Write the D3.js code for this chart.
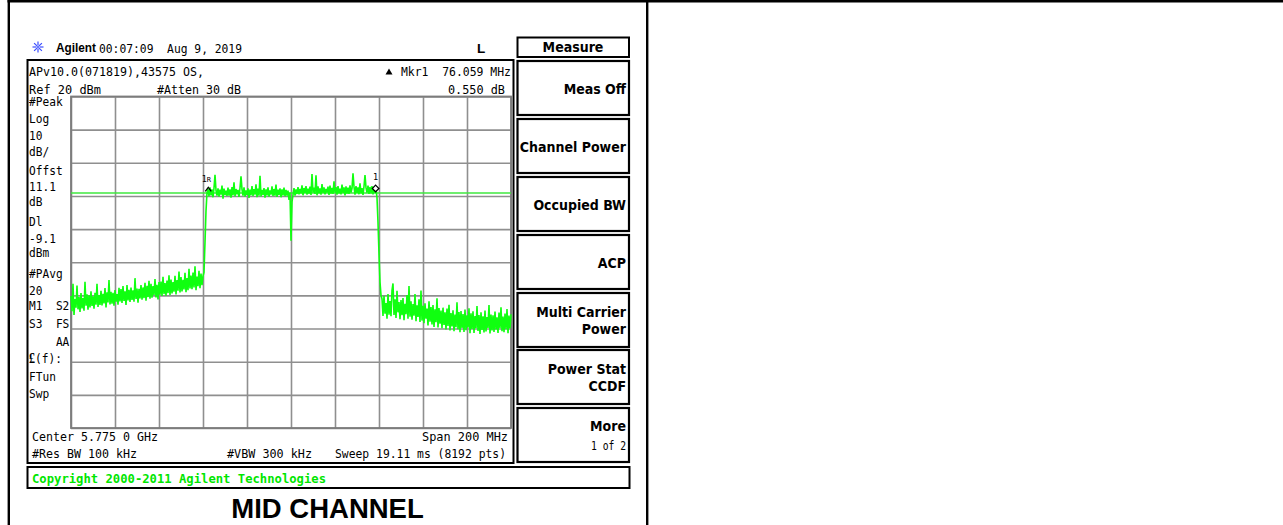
<!DOCTYPE html>
<html><head><meta charset="utf-8">
<script src="https://cdn.jsdelivr.net/npm/d3@7"></script>
<style>
html,body{margin:0;padding:0;background:#fff;}
svg{display:block;}
</style></head><body>
<svg id="c" width="1283" height="525"></svg>
<script>
// ---------- instrument settings ----------
const refLevelDbm = 20;
const dbPerDiv = 10;
const centerMHz = 5775;
const spanMHz = 200;
const displayLineDbm = -9.1;
const gridDivs = 10;

const traceLowerAdjacent = [
 -40.2,-44.8,-36.5,-45.9,-41.1,-43.7,-37.0,-44.2,-40.5,-45.0,
 -39.3,-43.9,-40.8,-44.6,-35.9,-43.1,-39.7,-44.3,-40.0,-43.6,
 -38.8,-43.2,-40.3,-44.0,-39.2,-42.8,-36.5,-43.5,-39.9,-42.9,
 -38.6,-43.0,-39.5,-42.4,-37.8,-43.6,-39.1,-42.1,-35.4,-42.7,
 -38.9,-42.5,-39.2,-43.1,-38.4,-41.9,-39.6,-42.8,-37.7,-41.8,
 -38.1,-42.3,-37.2,-41.7,-38.8,-42.9,-36.9,-41.5,-38.3,-42.0,
 -37.6,-41.4,-38.5,-41.9,-34.8,-41.1,-37.9,-42.2,-38.0,-40.9,
 -36.9,-41.3,-37.6,-40.8,-36.2,-41.6,-37.1,-40.5,-35.6,-41.0,
 -36.5,-40.7,-37.2,-39.9,-35.1,-40.6,-36.8,-41.2,-36.0,-39.8,
 -35.8,-40.2,-34.4,-39.6,-36.3,-40.1,-35.5,-39.3,-33.9,-39.9,
 -35.2,-39.4,-36.0,-38.9,-34.1,-39.7,-35.4,-38.6,-32.8,-39.1,
 -34.5,-38.8,-35.3,-38.2,-33.2,-39.0,-34.8,-38.4,-32.0,-37.9,
 -34.0,-38.1,-33.1,-37.6,-31.2,-38.4,-34.3,-37.2,-32.6,-37.8,-33.4,-36.9,-34.2
];
const traceRisingEdge = [-33.0,-24.0,-14.5,-9.0];
const traceInBand = [
 -7.9,-10.1,-7.4,-9.8,-8.0,-10.4,-7.6,-3.6,-8.3,-9.9,
 -7.7,-10.2,-8.1,-9.6,-6.9,-10.8,-7.8,-9.7,-8.4,-10.0,
 -7.5,-9.9,-8.0,-10.5,-7.3,-9.8,-5.9,-10.1,-7.9,-9.5,
 -8.2,-10.3,-7.6,-4.1,-8.0,-9.9,-7.4,-10.2,-8.3,-9.7,
 -7.7,-10.6,-8.1,-9.8,-7.0,-10.0,-7.9,-9.6,-6.5,-10.4,
 -7.8,-9.9,-3.9,-10.1,-8.2,-9.7,-7.6,-10.5,-8.0,-9.8,
 -7.4,-10.2,-8.3,-9.6,-7.1,-10.0,-7.9,-9.9,-6.6,-10.3,
 -8.1,-9.7,-7.7,-10.4,-8.0,-9.8,-7.5,-10.1,-8.2,-9.9,
 -8.4,-11.2,-9.0,-23.5,-11.8,-9.7,-7.6,-9.9,-8.0,-9.4,
 -7.3,-9.5,-7.9,-9.2,-6.8,-9.8,-7.6,-9.1,-7.0,-9.6,
 -7.8,-9.3,-7.2,-9.7,-3.4,-9.0,-7.5,-9.4,-3.8,-9.8,
 -7.1,-9.2,-7.7,-9.6,-6.4,-9.1,-7.4,-9.5,-7.9,-9.0,
 -7.2,-9.7,-6.9,-9.3,-7.6,-9.4,-5.6,-9.0,-7.3,-9.6,
 -7.0,-9.2,-7.8,-9.5,-6.6,-9.1,-7.4,-9.8,-7.1,-9.3,
 -7.5,-9.4,-6.8,-9.0,-7.7,-3.2,-7.2,-9.6,-7.0,-9.1,
 -7.4,-9.5,-6.2,-9.2,-7.6,-9.7,-7.1,-3.7,-7.5,-9.0,
 -6.9,-9.4,-7.3,-9.2,-7.0,-9.5,-7.6,-9.1,-7.8
];
const traceFallingEdge = [-10.5,-18.0,-27.5,-36.0,-40.0];
const traceUpperAdjacent = [
 -41.0,-46.2,-40.1,-45.5,-42.3,-47.0,-39.6,-45.8,-41.7,-46.3,
 -38.5,-36.4,-45.9,-41.2,-46.8,-38.6,-45.1,-42.0,-47.2,-41.4,
 -46.0,-40.8,-47.5,-42.5,-45.7,-39.9,-47.0,-37.2,-46.4,-41.8,
 -47.3,-42.6,-46.1,-39.6,-47.8,-43.0,-46.5,-41.2,-48.0,-38.5,
 -47.6,-43.1,-48.4,-42.4,-47.0,-44.0,-49.1,-41.8,-47.9,-43.5,
 -48.8,-42.9,-49.5,-44.2,-48.1,-40.9,-49.7,-43.8,-48.5,-44.6,
 -49.9,-43.7,-48.9,-45.1,-50.3,-44.0,-49.2,-42.8,-50.6,-45.3,
 -49.4,-44.5,-50.8,-45.8,-49.6,-42.1,-50.2,-45.0,-51.1,-44.7,
 -49.8,-45.6,-51.0,-44.3,-50.5,-46.0,-49.7,-43.9,-51.4,-45.4,
 -50.1,-44.8,-51.3,-46.2,-49.9,-43.2,-50.7,-45.9,-51.6,-45.1,
 -50.4,-46.3,-51.2,-44.6,-50.9,-46.5,-49.8,-42.9,-51.5,-45.8,
 -50.6,-46.0,-51.0,-44.9,-50.3,-46.6,-51.3,-45.2,-49.9,-43.6,
 -50.8,-46.4,-51.1,-45.5,-50.2,-44.1,-51.4,-46.1,-50.0,-45.7
];

// ---------- markers ----------
const markerRefMHz = 5737.4, markerRefDbm = -8.3;
const marker1MHz = 5813.46, marker1Dbm = -7.75;

// ---------- texts ----------
const headerTime = "00:07:09  Aug 9, 2019";
const statusLine1 = "APv10.0(071819),43575 OS,";
const markerReadout = "Mkr1  76.059 MHz";
const markerDelta = "0.550 dB";
const refText = "Ref 20 dBm";
const attenText = "#Atten 30 dB";
const sideLabels = ["#Peak","Log","10","dB/","Offst","11.1","dB","Dl","-9.1","dBm","#PAvg","20","M1  S2","S3  FS","    AA","(f):","FTun","Swp"];
const sideLabelY = [101.7,118.3,135,151.7,170,186,201,221,238,252,273,290,305,323,341,358,376,393];
const bottomLeft1 = "Center 5.775 0 GHz", bottomRight1 = "Span 200 MHz";
const bottomLeft2 = "#Res BW 100 kHz", bottomMid2 = "#VBW 300 kHz", bottomRight2 = "Sweep 19.11 ms (8192 pts)";
const copyrightText = "Copyright 2000-2011 Agilent Technologies";
const captionText = "MID CHANNEL";
const menuTitle = "Measure";
const softkeys = [["Meas Off"],["Channel Power"],["Occupied BW"],["ACP"],["Multi Carrier","Power"],["Power Stat","CCDF"],["More"]];
const moreSub = "1 of 2";

// ---------- drawing ----------
const svg = d3.select("#c");
const mono = "'DejaVu Sans Mono', 'Liberation Mono', monospace";
const keyFont = "'DejaVu Sans Condensed', 'DejaVu Sans', sans-serif";
const MONO_SIZE = 13;

function text(parent, x, y, s, o = {}) {
  const t = parent.append("text").attr("x", x).attr("y", y).text(s)
    .attr("font-family", o.family || mono)
    .attr("font-size", o.size || MONO_SIZE)
    .attr("font-weight", o.weight || "normal")
    .attr("fill", o.fill || "#000")
    .attr("text-anchor", o.anchor || "start")
    .style("white-space", "pre");
  if (o.stretch) t.attr("font-stretch", o.stretch);
  if (o.len) t.attr("textLength", o.len).attr("lengthAdjust", "spacingAndGlyphs");
  return t;
}

// outer page table lines
svg.append("line").attr("x1", 7.5).attr("x2", 1283).attr("y1", 1.3).attr("y2", 1.3).attr("stroke", "#000").attr("stroke-width", 2.6);
svg.append("line").attr("x1", 8.8).attr("x2", 8.8).attr("y1", 0).attr("y2", 525).attr("stroke", "#000").attr("stroke-width", 2.4);
svg.append("line").attr("x1", 647.2).attr("x2", 647.2).attr("y1", 0).attr("y2", 525).attr("stroke", "#000").attr("stroke-width", 2.4);

// header
const icon = svg.append("g").attr("transform", "translate(38,47)");
for (let a = 0; a < 8; a++) {
  const ang = a * Math.PI / 4;
  icon.append("line").attr("x1", 1.5 * Math.cos(ang)).attr("y1", 1.5 * Math.sin(ang))
    .attr("x2", 5.5 * Math.cos(ang)).attr("y2", 5.5 * Math.sin(ang))
    .attr("stroke", "#3a4cff").attr("stroke-width", 1.2);
}
icon.append("circle").attr("r", 1.3).attr("fill", "#6a7aff");
text(svg, 56, 52, "Agilent", {family: "'Liberation Sans', Arial, sans-serif", weight: "bold", size: 12.5, len: 40});
text(svg, 99, 52.5, headerTime, {len: 143});
text(svg, 477, 52.5, "L", {family: "'Liberation Sans', Arial, sans-serif", weight: "bold", size: 13.5});

// screen frame
svg.append("rect").attr("x", 27.5).attr("y", 60).attr("width", 486).attr("height", 403)
  .attr("fill", "none").attr("stroke", "#000").attr("stroke-width", 2);

text(svg, 29, 75.5, statusLine1, {len: 175});
svg.append("path").attr("d", "M385.5,74.5 L389,68.5 L392.5,74.5 Z").attr("fill", "#000");
text(svg, 511, 75.5, markerReadout, {anchor: "end", len: 110});
text(svg, 29, 93.5, refText, {len: 72});
text(svg, 157, 93.5, attenText, {len: 84});
text(svg, 505, 93.5, markerDelta, {anchor: "end", len: 57});

// side labels (condensed)
const side = svg.append("g").attr("transform", "translate(29,0) scale(0.86,1)");
sideLabels.forEach((s, i) => {
  const t = text(side, 0, sideLabelY[i] + 4.8, s);
  if (s === "(f):") {
    t.text(null);
    t.append("tspan").attr("font-weight", "bold").attr("font-family", "'Liberation Serif', serif").attr("font-size", 14).text("£");
    t.append("tspan").text("(f):");
  }
});

// scales
const x = d3.scaleLinear().domain([centerMHz - spanMHz / 2, centerMHz + spanMHz / 2]).range([71, 511]);
const y = d3.scaleLinear().domain([refLevelDbm - dbPerDiv * gridDivs, refLevelDbm]).range([428, 96.5]);
const plotH = y.range()[0] - y.range()[1];

const xGrid = d3.range(gridDivs + 1).map(i => x.domain()[0] + i * spanMHz / gridDivs);
const yGrid = d3.range(gridDivs + 1).map(i => y.domain()[0] + i * dbPerDiv);

const gx = svg.append("g").attr("transform", `translate(0,${y.range()[0]})`)
  .call(d3.axisBottom(x).tickValues(xGrid).tickSize(-plotH).tickFormat(""));
const gy = svg.append("g").attr("transform", `translate(${x.range()[0]},0)`)
  .call(d3.axisLeft(y).tickValues(yGrid).tickSize(-(x.range()[1] - x.range()[0])).tickFormat(""));
[gx, gy].forEach(g => {
  g.select(".domain").remove();
  g.selectAll(".tick line").attr("stroke", "#8f8f8f").attr("stroke-width", 1.6);
});
svg.append("rect").attr("x", x.range()[0]).attr("y", y.range()[1])
  .attr("width", x.range()[1] - x.range()[0]).attr("height", plotH)
  .attr("fill", "none").attr("stroke", "#7c7c7c").attr("stroke-width", 1.8);

// display line
svg.append("line").attr("x1", x.range()[0]).attr("x2", x.range()[1])
  .attr("y1", y(displayLineDbm)).attr("y2", y(displayLineDbm))
  .attr("stroke", "#3fe83f").attr("stroke-width", 1.5);

// trace
const traceDbm = [].concat(traceLowerAdjacent, traceRisingEdge, traceInBand, traceFallingEdge, traceUpperAdjacent);
const stepMHz = spanMHz / (traceDbm.length - 1);
const tracePts = traceDbm.map((v, i) => ({f: x.domain()[0] + i * stepMHz, v}));
svg.append("path").datum(tracePts)
  .attr("d", d3.line().x(d => x(d.f)).y(d => y(d.v)))
  .attr("fill", "none").attr("stroke", "#10ff10").attr("stroke-width", 1.6)
  .attr("stroke-linejoin", "bevel");

// markers
function diamond(cx, cy, r) { return `M${cx},${cy - r} L${cx + r},${cy} L${cx},${cy + r} L${cx - r},${cy} Z`; }
const mrx = x(markerRefMHz), mry = y(markerRefDbm);
svg.append("path").attr("d", `M${mrx - 3},${mry + 1} L${mrx},${mry - 3} L${mrx + 3},${mry + 1}`)
  .attr("fill", "none").attr("stroke", "#000").attr("stroke-width", 1.2);
text(svg, mrx - 6.5, mry - 8, "1", {size: 8.5});
text(svg, mrx - 1.5, mry - 8, "R", {size: 7});
const m1x = x(marker1MHz), m1y = y(marker1Dbm);
svg.append("path").attr("d", diamond(m1x, m1y, 3.3)).attr("fill", "#fff").attr("stroke", "#000").attr("stroke-width", 1.2);
text(svg, m1x - 2.5, m1y - 8, "1", {size: 8.5});

// bottom annotation lines
text(svg, 32, 441, bottomLeft1, {len: 126});
text(svg, 508, 441, bottomRight1, {anchor: "end", len: 86});
text(svg, 32, 458, bottomLeft2, {len: 105});
text(svg, 227, 458, bottomMid2, {len: 85});
text(svg, 506, 458, bottomRight2, {anchor: "end", len: 171});

// copyright box
svg.append("rect").attr("x", 27.5).attr("y", 467).attr("width", 602).attr("height", 21)
  .attr("fill", "none").attr("stroke", "#000").attr("stroke-width", 2);
text(svg, 32, 482.5, copyrightText, {weight: "bold", fill: "#00e600", len: 294});

// caption
text(svg, 327.5, 518, captionText, {family: "'Liberation Sans', Arial, sans-serif", weight: "bold", size: 27.5, anchor: "middle"});

// softkey menu
svg.append("rect").attr("x", 517.5).attr("y", 37.5).attr("width", 111.5).attr("height", 19.5)
  .attr("fill", "none").attr("stroke", "#000").attr("stroke-width", 2);
const kOpt = {family: keyFont, weight: "bold", size: 14, stretch: "condensed"};
text(svg, 573, 52.3, menuTitle, Object.assign({}, kOpt, {anchor: "middle"}));
const keyTop = [61, 119, 177, 235, 293, 350, 408];
const keyH = 54;
softkeys.forEach((lines, i) => {
  svg.append("rect").attr("x", 517.5).attr("y", keyTop[i]).attr("width", 111.5).attr("height", keyH)
    .attr("fill", "none").attr("stroke", "#000").attr("stroke-width", 2.2);
  const cy = keyTop[i] + keyH / 2;
  const o = Object.assign({}, kOpt, {anchor: "end"});
  if (i === softkeys.length - 1) {
    text(svg, 626, keyTop[i] + 23, lines[0], o);
    text(svg, 626, keyTop[i] + 42, moreSub, {size: 12.5, anchor: "end", len: 35});
  } else if (lines.length === 2) {
    text(svg, 626, cy - 3.5, lines[0], o);
    text(svg, 626, cy + 13.5, lines[1], o);
  } else {
    text(svg, 626, cy + 5.5, lines[0], o);
  }
});
</script>
</body></html>
